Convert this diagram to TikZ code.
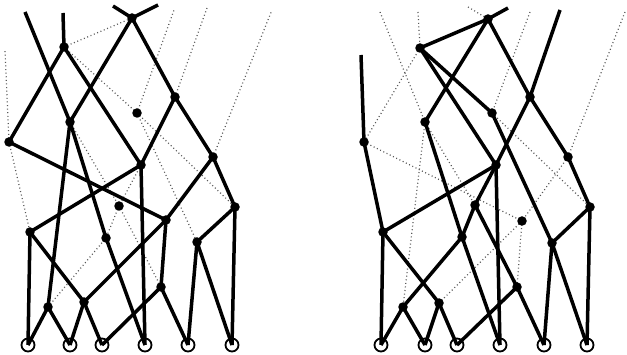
\documentclass[tikz,border=0pt]{standalone}
\usetikzlibrary{backgrounds}
\begin{document}
\begin{tikzpicture}[x=1pt,y=-1pt,
  vtx/.style={circle,fill=black,inner sep=0pt,minimum size=9.5pt},
  bnd/.style={circle,draw=black,line width=1.8pt,inner sep=0pt,minimum size=13pt},
  sol/.style={line width=3.5pt},
  dual/.style={line width=1.2pt,dash pattern=on 1pt off 2.6pt,draw=black!65}]
\useasboundingbox (0,0) rectangle (627,355);
% ---------- left picture ----------
\node[vtx] (A) at (64,47) {};
\node[vtx] (B) at (70,122) {};
\node[vtx] (C) at (132,18) {};
\node[vtx] (D) at (175,97) {};
\node[vtx] (E) at (213,157) {};
\node[vtx] (F) at (9,142) {};
\node[vtx] (G) at (30,232) {};
\node[vtx] (H) at (166,220) {};
\node[vtx] (I) at (48,307) {};
\node[vtx] (J) at (106,238) {};
\node[vtx] (K) at (141,165) {};
\node[vtx] (L) at (235,207) {};
\node[vtx] (M) at (197,242) {};
\node[vtx] (N) at (161,287) {};
\node[vtx] (O) at (84,302) {};
\node[vtx] (P1) at (137,113) {};
\node[vtx] (P2) at (119,206) {};
\node[bnd] (c1) at (28,345) {};
\node[bnd] (c2) at (70,345) {};
\node[bnd] (c3) at (102,345) {};
\node[bnd] (c4) at (145,345) {};
\node[bnd] (c5) at (188,345) {};
\node[bnd] (c6) at (232,345) {};
\coordinate (a1) at (25,12);
\coordinate (a2) at (63,13);
\coordinate (a3) at (113,6);
\coordinate (a4) at (158,5);
\coordinate (d1) at (5,50);
\coordinate (d2) at (174,10);
\coordinate (d3) at (207,8);
\coordinate (d4) at (272,10);
% ---------- right picture ----------
\node[vtx] (rP) at (364,142) {};
\node[vtx] (rQ) at (420,48) {};
\node[vtx] (rR) at (488,19) {};
\node[vtx] (rS) at (492,113) {};
\node[vtx] (rT) at (496,165) {};
\node[vtx] (rU) at (425,122) {};
\node[vtx] (rV) at (530,97) {};
\node[vtx] (rX) at (568,157) {};
\node[vtx] (rZ) at (590,207) {};
\node[vtx] (rY) at (552,243) {};
\node[vtx] (rA) at (383,232) {};
\node[vtx] (rB) at (475,205) {};
\node[vtx] (rC) at (462,237) {};
\node[vtx] (rD) at (439,303) {};
\node[vtx] (rE) at (403,307) {};
\node[vtx] (rF) at (517,287) {};
\node[vtx] (rW) at (522,221) {};
\node[bnd] (rc1) at (381,345) {};
\node[bnd] (rc2) at (425,345) {};
\node[bnd] (rc3) at (457,345) {};
\node[bnd] (rc4) at (500,345) {};
\node[bnd] (rc5) at (544,345) {};
\node[bnd] (rc6) at (587,345) {};
\coordinate (rf1) at (361,55);
\coordinate (rf2) at (508,8);
\coordinate (rf3) at (560,10);
\coordinate (re1) at (468,7);
\coordinate (re2) at (418,12);
\coordinate (re3) at (380,12);
\coordinate (re4) at (530,12);
\coordinate (re5) at (625,12);
\begin{scope}[on background layer]
% left dotted
\foreach \p/\q in {A/C,A/P1,P1/L,P1/d2,P1/M,D/d3,E/d4,F/d1,F/G,B/P2,K/P2,P2/J,P2/N,I/J}
  \draw[dual] (\p.center) -- (\q.center);
% left solid
\foreach \p/\q in {a1/B,a2/A,a3/C,a4/C,A/F,A/K,C/B,C/D,D/K,D/E,E/H,E/L,F/H,K/G,K/c4,B/I,B/J,J/c4,G/c1,G/O,I/c1,I/c2,O/c2,O/c3,c3/N,H/N,H/O,N/c5,M/c5,M/c6,L/M,L/c6}
  \draw[sol] (\p.center) -- (\q.center);
% right dotted
\foreach \p/\q in {re1/rR,re2/rQ,re3/rU,rQ/rP,re4/rS,re5/rX,rX/rW,rS/rZ,rP/rW,rU/rB,rU/rE,rD/rW,rW/rF}
  \draw[dual] (\p.center) -- (\q.center);
% right solid
\foreach \p/\q in {rf1/rP,rf2/rR,rf3/rV,rQ/rR,rQ/rS,rQ/rT,rR/rU,rR/rV,rV/rT,rV/rX,rX/rZ,rZ/rY,rZ/rc6,rS/rY,rT/rc4,rT/rA,rT/rB,rB/rC,rB/rF,rU/rC,rP/rA,rA/rc1,rA/rD,rC/rE,rC/rc4,rE/rc1,rE/rc2,rD/rc2,rD/rc3,rF/rc3,rF/rc5,rY/rc5,rY/rc6}
  \draw[sol] (\p.center) -- (\q.center);
\end{scope}
\end{tikzpicture}
\end{document}
